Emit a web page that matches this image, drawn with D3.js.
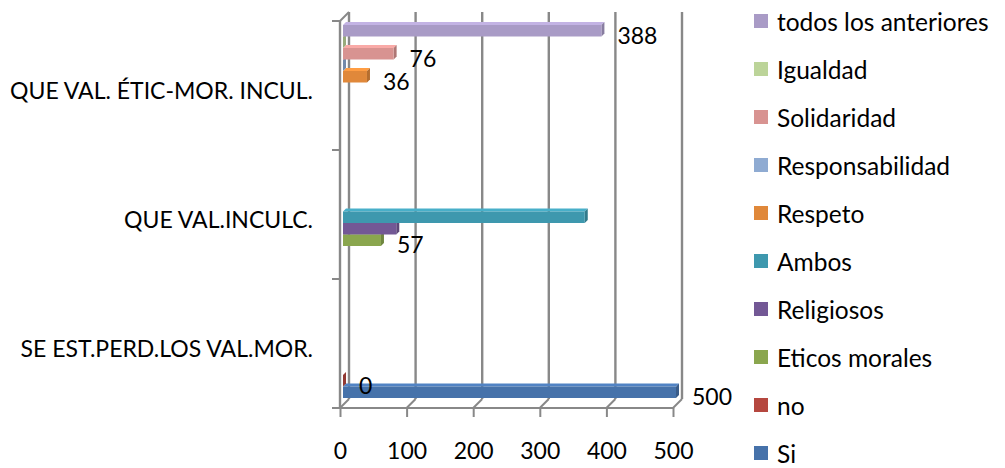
<!DOCTYPE html>
<html><head><meta charset="utf-8">
<script src="https://cdn.jsdelivr.net/npm/d3@7/dist/d3.min.js"></script>
<style>
html,body{margin:0;padding:0;background:#fff;}
svg{display:block;font-family:Lato,"Open Sans",sans-serif;}
</style></head>
<body>
<svg id="chart" width="1005" height="468"></svg>
<script>
// ---- data ----
const categories = ["SE EST.PERD.LOS VAL.MOR.", "QUE VAL.INCULC.", "QUE VAL. ÉTIC-MOR. INCUL."];
const seriesNames = ["Si", "no", "Eticos morales", "Religiosos", "Ambos", "Respeto",
  "Responsabilidad", "Solidaridad", "Igualdad", "todos los anteriores"];
const seriesColors = ["#4672aa", "#b5473f", "#8aa64e", "#735895", "#3e98ae", "#e0883a",
  "#8fabd2", "#d89391", "#bcd499", "#a99bc6"];
// values per series, one per category (null = blank cell)
const siValues = [500, null, null];
const noValues = [0, null, null];
const eticosValues = [null, 57, null];
const religiososValues = [null, 80, null];
const ambosValues = [null, 363, null];
const respetoValues = [null, null, 36];
const responsabilidadValues = [null, null, 0];
const solidaridadValues = [null, null, 76];
const igualdadValues = [null, null, 0];
const todosValues = [null, null, 388];
const seriesShowLabels = [true, true, true, false, false, true, false, true, false, true];
const xTicks = [0, 100, 200, 300, 400, 500];

const seriesValues = [siValues, noValues, eticosValues, religiososValues, ambosValues,
  respetoValues, responsabilidadValues, solidaridadValues, igualdadValues, todosValues];

// ---- layout ----
const svg = d3.select("#chart");
const x = d3.scaleLinear().domain([0, 500]).range([340, 673]);
const yCat = d3.scaleBand().domain(categories).range([408, 21]);
const bw = yCat.bandwidth();
const ySer = d3.scaleBand().domain(seriesNames).range([bw - 7, 7]);
const DX = 9, DY = -9;      // wall depth
const bo = 3, bd = 3;       // bar front offset and depth
const gridColor = "#888888";

const g = svg.append("g");

g.selectAll("line.grid").data(xTicks).join("line")
  .attr("x1", d => x(d) + DX).attr("x2", d => x(d) + DX)
  .attr("y1", 12).attr("y2", 408 + DY)
  .attr("stroke", gridColor).attr("stroke-width", 2.4);
g.selectAll("line.floor").data(xTicks).join("line")
  .attr("x1", d => x(d)).attr("y1", 408)
  .attr("x2", d => x(d) + DX).attr("y2", 408 + DY)
  .attr("stroke", gridColor).attr("stroke-width", 2);
g.append("line").attr("x1", 340).attr("x2", 340).attr("y1", 21).attr("y2", 408)
  .attr("stroke", gridColor).attr("stroke-width", 2.4);
g.append("line").attr("x1", 340).attr("y1", 21).attr("x2", 340 + DX).attr("y2", 21 + DY)
  .attr("stroke", gridColor).attr("stroke-width", 2);
const catEdges = categories.map(c => yCat(c)).concat([408]);
g.selectAll("line.ctick").data(catEdges).join("line")
  .attr("x1", 332).attr("x2", 340).attr("y1", d => d).attr("y2", d => d)
  .attr("stroke", gridColor).attr("stroke-width", 2);

// bottom axis
const xAxis = d3.axisBottom(x).tickValues(xTicks).tickSize(9).tickPadding(26);
const ax = svg.append("g").attr("transform", "translate(0,408)").call(xAxis);
ax.select(".domain").attr("stroke", gridColor).attr("stroke-width", 2).attr("d", `M${x(0)},0H${x(500)}`);
ax.selectAll(".tick line").attr("stroke", gridColor).attr("stroke-width", 2);
ax.selectAll(".tick text").attr("font-size", 23).attr("font-family", "Lato").attr("fill", "#000");

// category labels
svg.selectAll("text.cat").data(categories).join("text")
  .attr("x", 313).attr("y", d => yCat(d) + bw / 2 + 4)
  .attr("text-anchor", "end").attr("dominant-baseline", "central")
  .attr("font-size", 23).attr("fill", "#000").text(d => d);

// bars
const bars = [];
seriesValues.forEach((vals, si) => vals.forEach((v, ci) => {
  if (v !== null) bars.push({ s: seriesNames[si], color: seriesColors[si], v, c: categories[ci], lab: seriesShowLabels[si] });
}));
const bg = svg.append("g");
const h = ySer.bandwidth();
bars.forEach(b => {
  const x0 = x(0) + bo, x1 = x(b.v) + bo;
  const y0 = yCat(b.c) + ySer(b.s) - bo;
  const col = d3.color(b.color);
  bg.append("polygon").attr("points", [[x0, y0], [x1, y0], [x1 + bd, y0 - bd], [x0 + bd, y0 - bd]].join(" "))
    .attr("fill", col.brighter(0.4));
  bg.append("polygon").attr("points", [[x1, y0], [x1 + bd, y0 - bd], [x1 + bd, y0 + h - bd], [x1, y0 + h]].join(" "))
    .attr("fill", col.darker(0.6));
  bg.append("rect").attr("x", x0).attr("y", y0).attr("width", x1 - x0).attr("height", h)
    .attr("fill", b.color);
  if (b.lab) {
    bg.append("text").attr("x", x1 + 16).attr("y", y0 + h / 2 + 4)
      .attr("dominant-baseline", "central").attr("font-size", 23).attr("fill", "#000")
      .text(b.v);
  }
});

// legend (top = last series)
const legOrder = seriesNames.map((n, i) => i).reverse();
const lg = svg.append("g");
const legY = d3.scalePoint().domain(legOrder).range([21, 453]);
legOrder.forEach(i => {
  const yy = legY(i);
  lg.append("rect").attr("x", 754).attr("y", yy - 7).attr("width", 14).attr("height", 14)
    .attr("fill", seriesColors[i]);
  lg.append("text").attr("x", 777).attr("y", yy).attr("dominant-baseline", "central")
    .attr("font-size", 24.5).attr("fill", "#000").text(seriesNames[i]);
});
</script>
</body></html>
